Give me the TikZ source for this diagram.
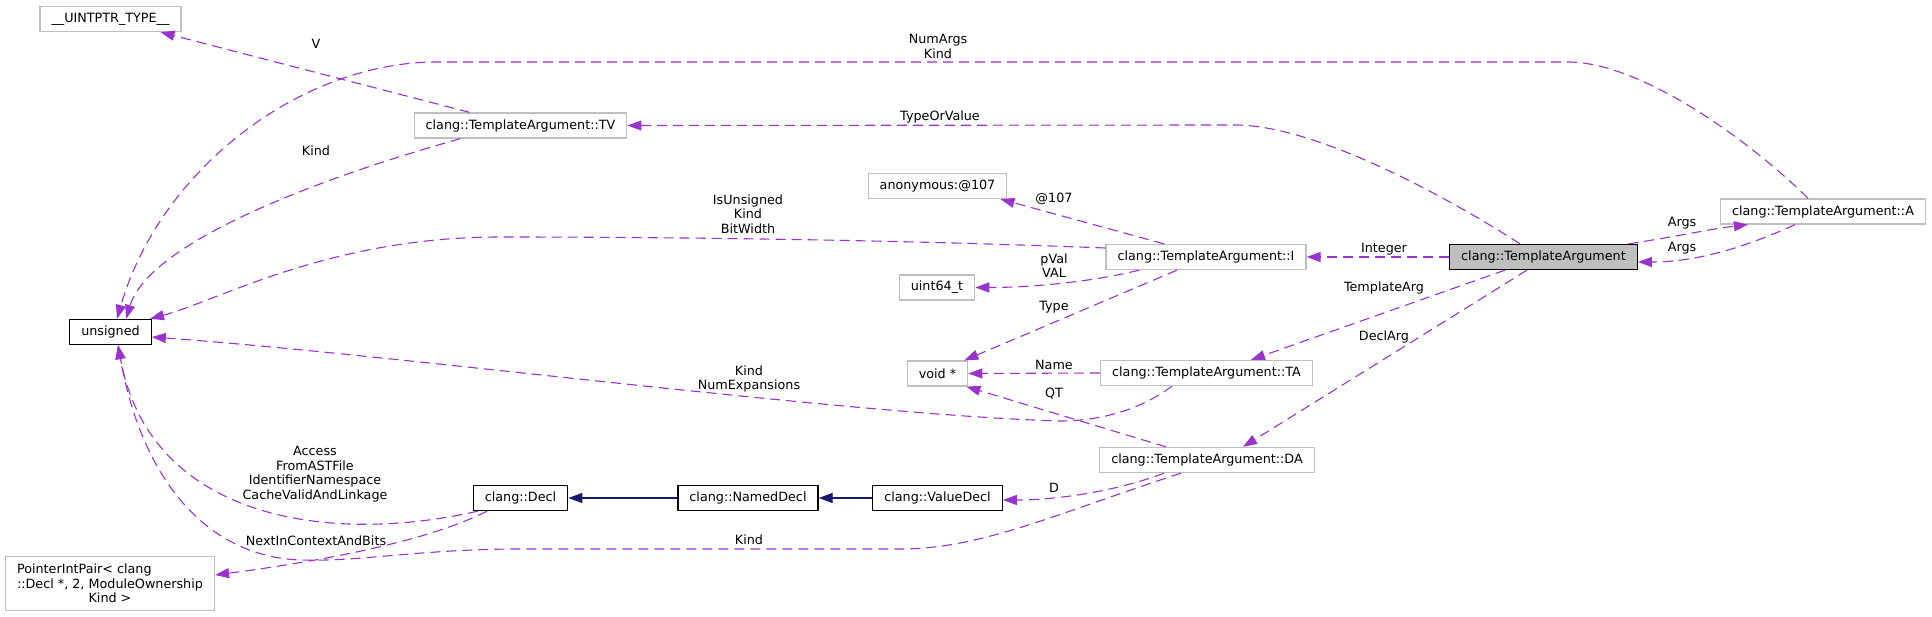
\documentclass[tikz,border=0pt]{standalone}
\usepackage{fontspec}
\setmainfont{DejaVu Sans}
\usetikzlibrary{arrows.meta,calc}
\definecolor{edgec}{HTML}{9A32CD}
\definecolor{inhc}{HTML}{191970}
\definecolor{gbord}{HTML}{BFBFBF}
\definecolor{gfill}{HTML}{BFBFBF}
\begin{document}
\begin{tikzpicture}[x=1pt,y=-1pt,
  every node/.style={font=\fontsize{12.75}{14.6}\selectfont, inner sep=0pt},
  cls/.style={minimum height=25pt, inner xsep=11.5pt, line width=1.3pt, fill=white},
  gbox/.style={cls, draw=gbord},
  bbox/.style={cls, draw=black},
  lbl/.style={align=center},
  dep/.style={draw=edgec, line width=1.1pt, dash pattern=on 10pt off 6pt, -{Triangle[length=14pt,width=10pt]}},
  inh/.style={draw=inhc, line width=1.2pt, -{Triangle[length=14pt,width=10pt]}}
]
\useasboundingbox[fill=white] (0,0) rectangle (1932,617);

% classes
\node[gbox] (uintptr) at (110.5,19) {\_\_UINTPTR\_TYPE\_\_};
\node[gbox] (tv) at (520.5,125.5) {clang::TemplateArgument::TV};
\node[gbox] (anon) at (937.5,186) {anonymous:@107};
\node[gbox] (targA) at (1823,211.5) {clang::TemplateArgument::A};
\node[gbox] (tI) at (1206,257) {clang::TemplateArgument::I};
\node[bbox, fill=gfill] (targ) at (1543.5,257) {clang::TemplateArgument};
\node[gbox] (uint64) at (937,287.5) {uint64\_t};
\node[bbox] (unsigned) at (110.5,332) {unsigned};
\node[gbox] (voidp) at (937.5,373.5) {void *};
\node[gbox] (tTA) at (1206.5,373) {clang::TemplateArgument::TA};
\node[gbox] (tDA) at (1207,460) {clang::TemplateArgument::DA};
\node[bbox] (valuedecl) at (937.5,498) {clang::ValueDecl};
\node[bbox] (nameddecl) at (748,498) {clang::NamedDecl};
\node[bbox] (decl) at (520.5,498) {clang::Decl};
\node[gbox, align=center, minimum height=54pt] (pip) at (110,583.5)
  {\rlap{PointerIntPair< clang}\phantom{::Decl *, 2, ModuleOwnership}\\::Decl *, 2, ModuleOwnership\\Kind >};

% edge labels
\node[lbl] (lV) at (316,44) {V};
\node[lbl] (lNumArgs) at (938,46.5) {NumArgs\\Kind};
\node[lbl] (lTypeOrValue) at (940,117) {TypeOrValue};
\node[lbl] (lKindTV) at (316,151) {Kind};
\node[lbl] (l107) at (1054,199) {@107};
\node[lbl] (lIsUnsigned) at (748,214) {IsUnsigned\\Kind\\BitWidth};
\node[lbl] (lArgsA) at (1682,223) {Args};
\node[lbl] (lArgsB) at (1682,248) {Args};
\node[lbl] (lInteger) at (1384,249) {Integer};
\node[lbl] (lpVal) at (1054,265.5) {pVal\\VAL};
\node[lbl] (lTemplateArg) at (1384,288) {TemplateArg};
\node[lbl] (lType) at (1054,307) {Type};
\node[lbl] (lDeclArg) at (1384,337) {DeclArg};
\node[lbl] (lName) at (1054,365) {Name};
\node[lbl] (lKindNE) at (749,379) {Kind\\NumExpansions};
\node[lbl] (lQT) at (1054,394) {QT};
\node[lbl] (lAccess) at (315,474) {Access\\FromASTFile\\IdentifierNamespace\\CacheValidAndLinkage};
\node[lbl] (lD) at (1054,488) {D};
\node[lbl] (lKindDA) at (749,540) {Kind};
\node[lbl] (lNext) at (316,541) {NextInContextAndBits};

% connectors
\draw[dep] ([xshift=-51pt]tv.north) -- ([xshift=50pt]uintptr.south);
\draw[dep] ([xshift=-60pt]tv.south) .. controls (330,175) and (150,240) .. ([xshift=15.5pt]unsigned.north);
\draw[dep] ([xshift=-15pt]targA.north) .. controls (1748,139) and (1640,62) .. (1568,62) -- (437,62) .. controls (300,62) and (160,170) .. ([xshift=6.5pt]unsigned.north);
\draw[dep] ([xshift=-23.5pt]targ.north) .. controls (1460,205) and (1320,125) .. (1235,125) -- (tv.east);
\draw[dep] ([xshift=-42pt]tI.north) -- ([xshift=-7pt]anon.south east);
\draw[dep] ($(tI.west)+(0,-9)$) .. controls (850,238) and (600,237) .. (500,237) .. controls (330,237) and (220,300) .. ([xshift=39.5pt]unsigned.north);
\draw[dep] ([xshift=-67pt]tI.south) .. controls (1100,280) and (1040,287.5) .. (uint64.east);
\draw[dep] ([xshift=-29pt]tI.south) -- ([xshift=-4pt]voidp.north east);
\draw[dep] (targ.west) -- (tI.east);
\draw[dep] ([xshift=-38.5pt]targ.south) -- ([xshift=44.5pt]tTA.north);
\draw[dep] ([xshift=-16.5pt]targ.south) -- ([xshift=36pt]tDA.north);
\draw[dep] ([xshift=-9.5pt]targ.north east) .. controls (1680,236) and (1710,229) .. ([xshift=28pt]targA.south west);
\draw[dep] ([xshift=-28pt]targA.south) .. controls (1750,245) and (1700,262) .. ($(targ.east)+(0,5)$);
\draw[dep] (tTA.west) -- (voidp.east);
\draw[dep] ([xshift=-34.5pt]tTA.south) .. controls (1140,410) and (1100,421) .. (1060,421) .. controls (850,415) and (400,355) .. ($(unsigned.east)+(0,5)$);
\draw[dep] ([xshift=-41pt]tDA.north) -- ([xshift=-2pt]voidp.south east);
\draw[dep] ([xshift=-43pt]tDA.south) .. controls (1120,490) and (1060,500) .. ($(valuedecl.east)+(0,2)$);
\draw[dep] ([xshift=-26pt]tDA.south) .. controls (1050,516) and (980,549) .. (900,549) -- (520,549) .. controls (420,549) and (360,562) .. (300,560) .. controls (200,556) and (140,470) .. ([xshift=7.5pt]unsigned.south);
\draw[dep] ([xshift=5pt]decl.south west) .. controls (330,545) and (150,520) .. ([xshift=7.5pt]unsigned.south);
\draw[dep] ([xshift=-33.5pt]decl.south) .. controls (430,540) and (330,560) .. ($(pip.east)+(0,-8.5)$);
\draw[inh] (nameddecl.west) -- (decl.east);
\draw[inh] (valuedecl.west) -- (nameddecl.east);
\end{tikzpicture}
\end{document}
